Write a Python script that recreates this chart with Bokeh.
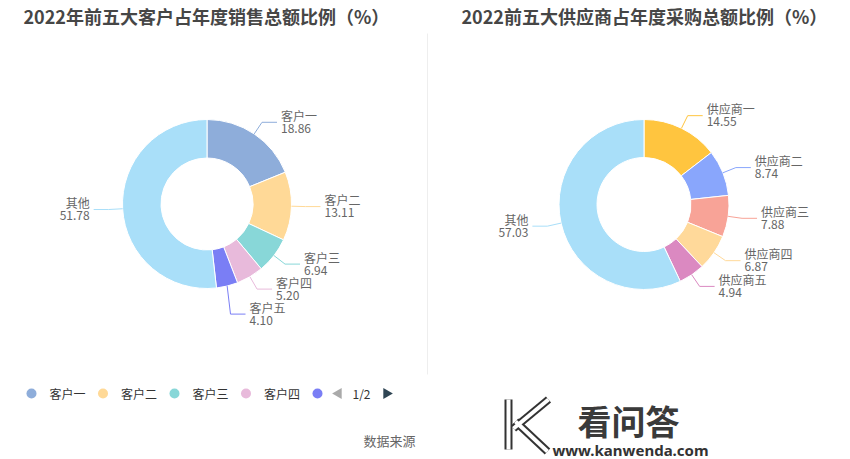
import math
from bokeh.plotting import figure
from bokeh.models import Range1d, ColumnDataSource
from bokeh.core.properties import value
from bokeh.embed import file_html
from bokeh.resources import INLINE

W, H = 850, 459
FONT = "Noto Sans CJK SC"

# ---------------- data ----------------
left_title = "2022年前五大客户占年度销售总额比例（%）"
left_names = ["客户一", "客户二", "客户三", "客户四", "客户五", "其他"]
left_values = [18.86, 13.11, 6.94, 5.20, 4.10, 51.78]
left_colors = ["#8eadda", "#ffd997", "#88d7d8", "#e8badb", "#7a7ef5", "#a9dff9"]

right_title = "2022前五大供应商占年度采购总额比例（%）"
right_names = ["供应商一", "供应商二", "供应商三", "供应商四", "供应商五", "其他"]
right_values = [14.55, 8.74, 7.88, 6.87, 4.94, 57.03]
right_colors = ["#ffc53f", "#89a6fc", "#f8a397", "#ffd99a", "#db89c1", "#a9dff9"]

legend_names = ["客户一", "客户二", "客户三", "客户四", "客户五"]
legend_page = "1/2"
source_note = "数据来源"

# ---------------- figure ----------------
p = figure(width=W, height=H, x_range=Range1d(0, W), y_range=Range1d(0, H),
           output_backend="svg", toolbar_location=None, min_border=0,
           x_axis_type=None, y_axis_type=None)
p.grid.visible = False
p.outline_line_color = None
p.background_fill_color = "white"
p.border_fill_color = "white"


def Y(y):
    return H - y


def txt(x, y, s, size="12px", color="#666666", align="left", bold=False, font=FONT):
    p.text(x=[x], y=[Y(y)], text=[s], text_font=value(font), text_font_size=size,
           text_color=color, text_align=align, text_baseline="middle",
           text_font_style="bold" if bold else "normal")


def donut(names, values, colors, cx, cy, r0, r1):
    total = float(sum(values))
    n = len(values)
    starts, ends = [], []
    cum = 0.0
    for v in values:
        starts.append(cum / total)
        cum += v
        ends.append(cum / total)
    src = ColumnDataSource(dict(
        x=[cx] * n, y=[Y(cy)] * n,
        start=[math.pi / 2 - 2 * math.pi * s for s in starts],
        end=[math.pi / 2 - 2 * math.pi * e for e in ends],
        color=colors))
    p.annular_wedge(x="x", y="y", inner_radius=r0, outer_radius=r1,
                    start_angle="start", end_angle="end", direction="clock",
                    fill_color="color", line_color="white", line_width=1, source=src)

    # label layout
    labels = []
    for i in range(n):
        th = 2 * math.pi * (starts[i] + ends[i]) / 2
        s, c = math.sin(th), math.cos(th)
        ox, oy = cx + r1 * s, cy - r1 * c
        ex, ey = cx + (r1 + 14) * s, cy - (r1 + 14) * c
        labels.append(dict(i=i, side=1 if s >= 0 else -1, ox=ox, oy=oy, ex=ex, ey=ey))
    for side in (1, -1):
        grp = sorted([l for l in labels if l["side"] == side], key=lambda l: l["ey"])
        prev = None
        for l in grp:
            if prev is not None and l["ey"] < prev + 25:
                l["ey"] = prev + 25
            prev = l["ey"]
    for l in labels:
        i = l["i"]
        endx = l["ex"] + 15 * l["side"]
        p.line(x=[l["ox"], l["ex"], endx], y=[Y(l["oy"]), Y(l["ey"]), Y(l["ey"])],
               line_color=colors[i], line_width=1)
        tx = endx + 4 * l["side"]
        al = "left" if l["side"] > 0 else "right"
        txt(tx, l["ey"] - 7, names[i], align=al)
        txt(tx, l["ey"] + 6, f"{values[i]:.2f}", align=al)


# titles
txt(23, 15, left_title, size="18px", color="#464646", bold=True)
txt(461, 15, right_title, size="18px", color="#464646", bold=True)

# divider
p.line(x=[427, 427], y=[Y(33), Y(374)], line_color="#eeeeee", line_width=1)

donut(left_names, left_values, left_colors, 206.5, 203.5, 46, 84.5)
donut(right_names, right_values, right_colors, 643.5, 204, 47, 85)

# legend (left chart, page 1)
for k, nm in enumerate(legend_names):
    lx = 31 + k * 71.5
    p.scatter(x=[lx], y=[Y(393)], size=10, marker="circle",
              fill_color=left_colors[k], line_color=None)
    if k < 4:
        txt(lx + 18, 393, nm, color="#333333")
p.scatter(x=[338], y=[Y(393)], size=11, marker="triangle", angle=math.pi / 2,
          fill_color="#aaaaaa", line_color=None)
txt(361, 393, legend_page, color="#333333", align="center")
p.scatter(x=[386], y=[Y(393)], size=11, marker="triangle", angle=-math.pi / 2,
          fill_color="#2f4554", line_color=None)

txt(389, 440, source_note, size="13px", color="#666666", align="center")

# watermark
kx = [[508, 508], [548, 513], [515, 547]]
ky = [[Y(399), Y(449)], [Y(399), Y(428)], [Y(421), Y(451)]]
p.multi_line(xs=kx, ys=ky, line_color="#333333", line_width=8)
p.multi_line(xs=kx, ys=ky, line_color="white", line_width=4)
txt(628, 420, "看问答", size="34px", color="#3a3a3a", align="center", bold=True)
txt(630, 449, "www.kanwenda.com", size="15px", color="#333333", align="center",
    bold=True, font="Noto Sans")

open("out.html", "w").write(file_html(p, INLINE))
